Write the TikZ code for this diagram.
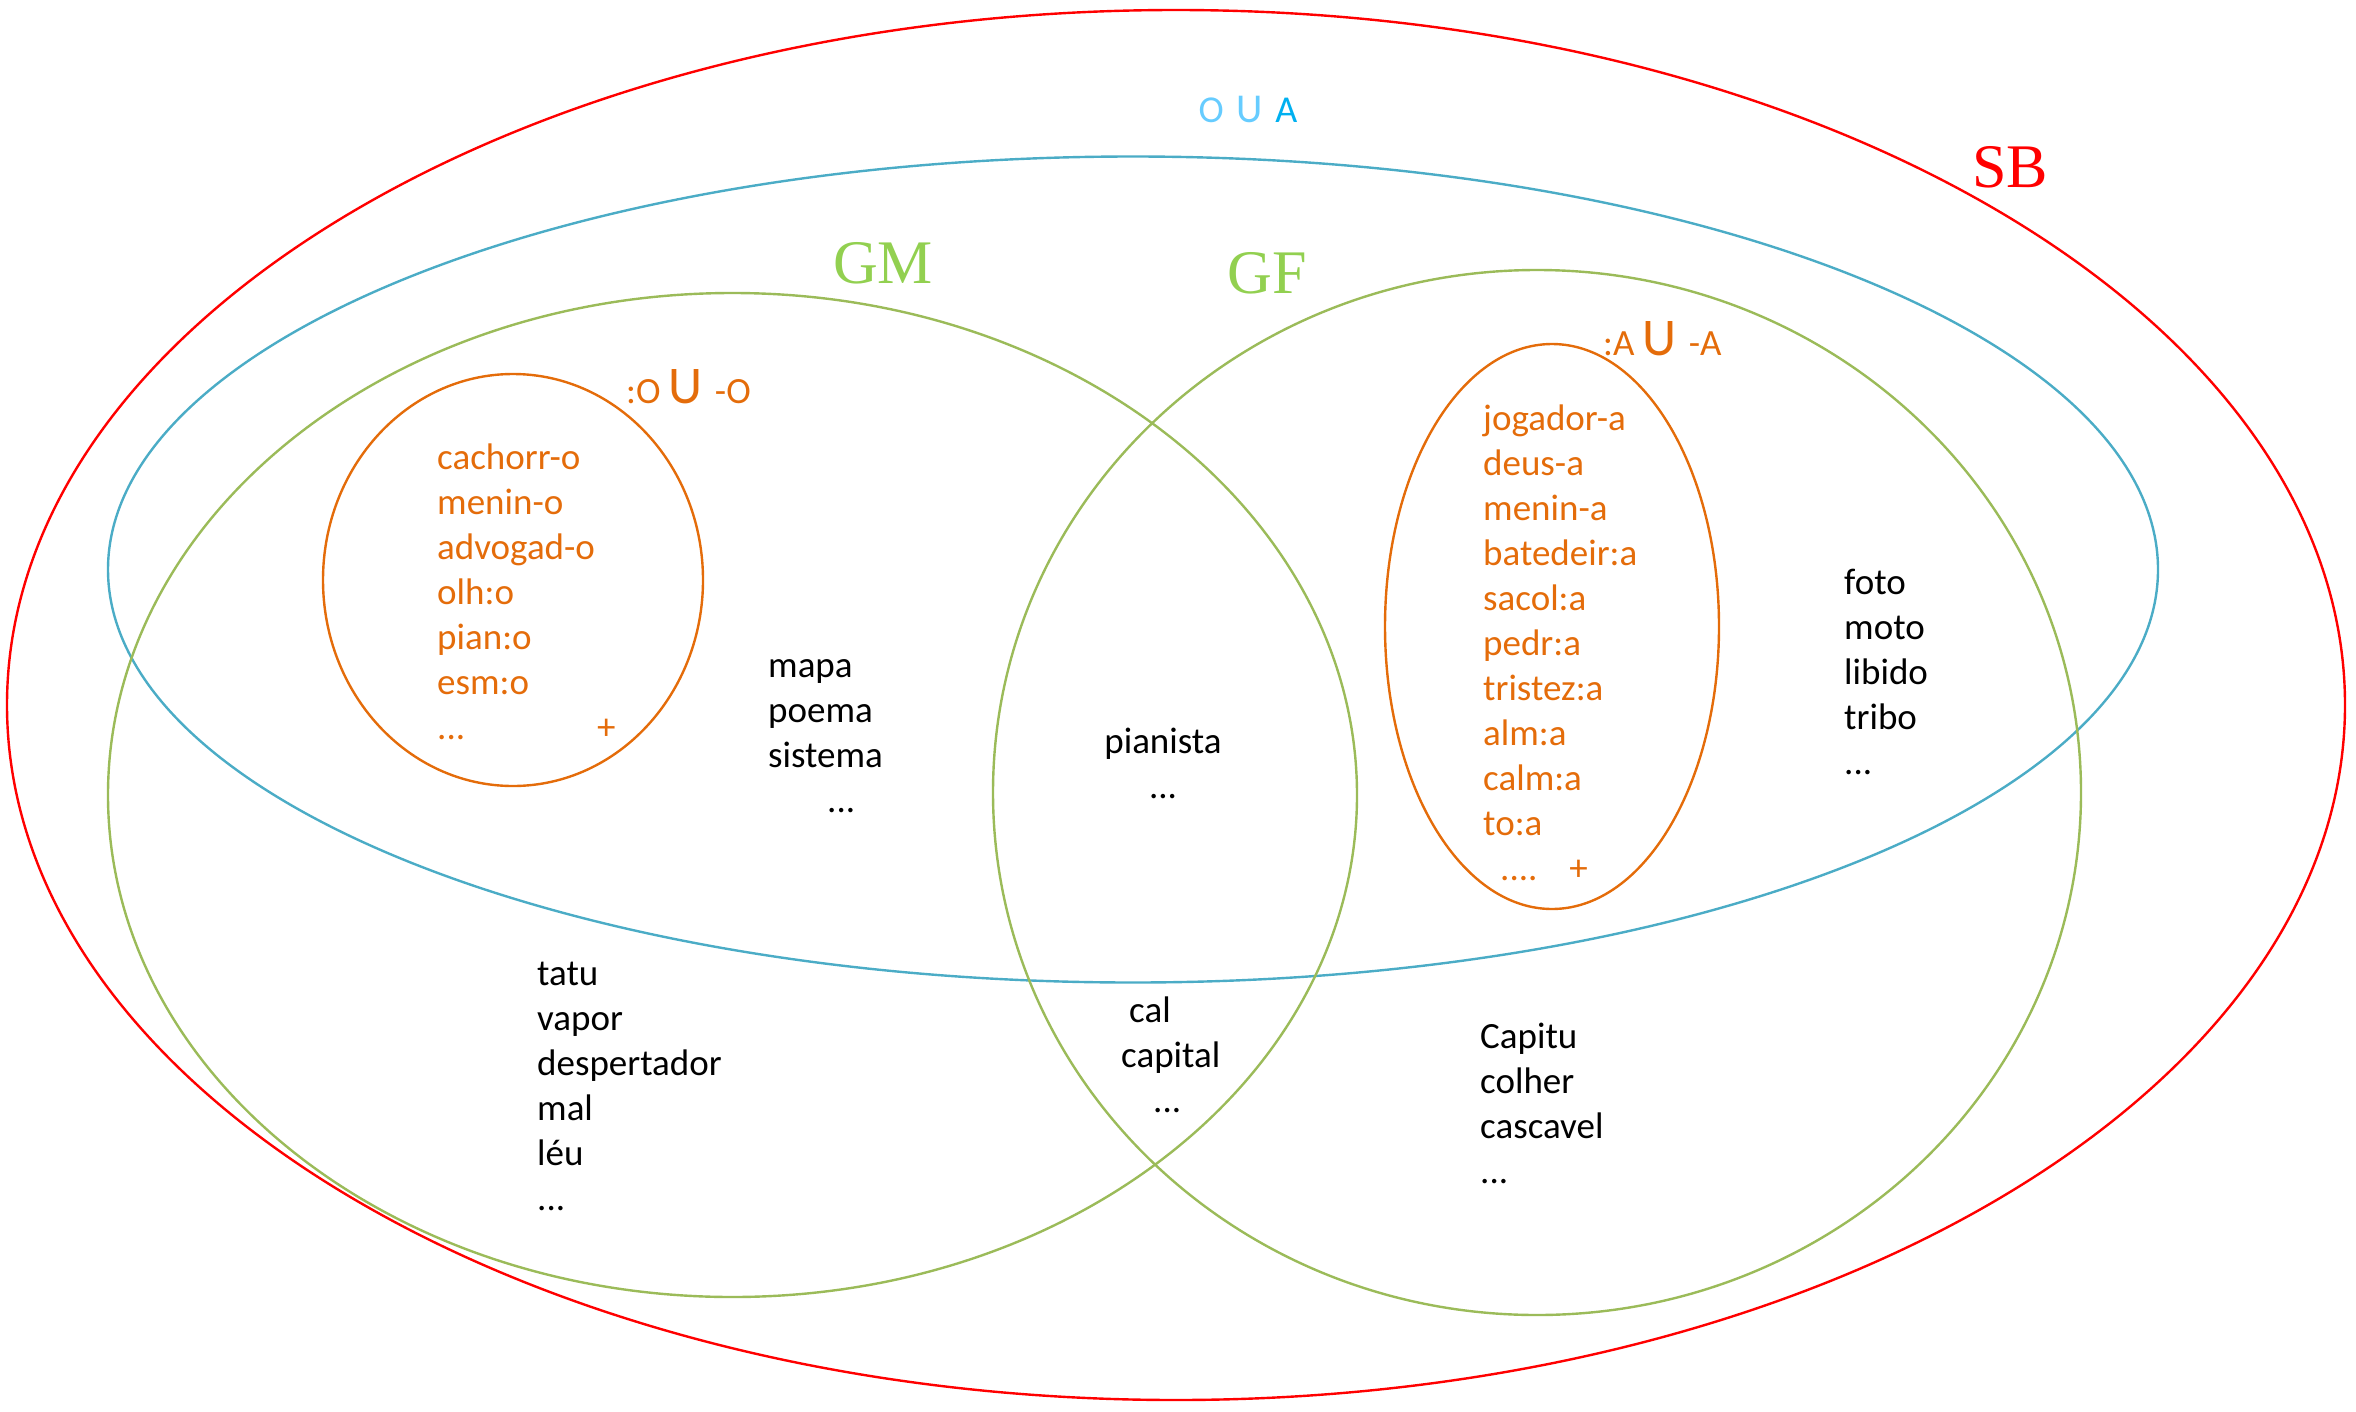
\documentclass[tikz,border=0pt]{standalone}
\usepackage{fontspec}
\setmainfont{Carlito}
\newfontfamily\serifB{Liberation Serif}
\definecolor{sbred}{HTML}{FF0000}
\definecolor{oablue}{HTML}{4BACC6}
\definecolor{gline}{HTML}{9BBB59}
\definecolor{gtext}{HTML}{92D050}
\definecolor{orng}{HTML}{E46C0A}
\definecolor{lblue}{HTML}{66CCFF}
\definecolor{cyanA}{HTML}{00B0F0}
\tikzset{
  set/.style={line width=2.4pt},
  wlist/.style={font=\fontsize{37}{45}\selectfont, align=left, inner sep=0pt, anchor=west},
  clist/.style={font=\fontsize{37}{45}\selectfont, align=center, inner sep=0pt},
  biglab/.style={font=\serifB\fontsize{62}{70}\selectfont, inner sep=0pt},
}
\begin{document}
\begin{tikzpicture}[x=1pt,y=-1pt]
\useasboundingbox (0,0) rectangle (2356,1411);
% sets
\draw[set, sbred] (1176,705) ellipse [x radius=1169, y radius=695];
\draw[set, oablue] (1133,569.5) ellipse [x radius=1025, y radius=413];
\draw[set, gline] (732.5,795) ellipse [x radius=624.5, y radius=502];
\draw[set, gline] (1537,792.5) ellipse [x radius=544, y radius=522.5];
\draw[set, orng] (513,580) ellipse [x radius=190, y radius=206];
\draw[set, orng] (1552,626.5) ellipse [x radius=167, y radius=282.5];
% labels
\node[biglab, text=sbred] (sb) at (2010,167) {SB};
\node[biglab, text=gtext] (gm) at (883,263) {GM};
\node[biglab, text=gtext] (gf) at (1267,273) {GF};
\node[inner sep=0pt, anchor=base, font=\fontsize{38}{40}\selectfont] (oua) at (1248,122)
  {\textcolor{lblue}{O\,\,{\fontsize{41}{44}\selectfont U}}\,\,\textcolor{cyanA}{A}};
\node[inner sep=0pt, anchor=base west, text=orng] (mo) at (626,403)
  {\fontsize{37}{40}\selectfont :O \fontsize{53}{56}\selectfont U \fontsize{37}{40}\selectfont -O};
\node[inner sep=0pt, anchor=base west, text=orng] (fa) at (1603,355)
  {\fontsize{37}{40}\selectfont :A \fontsize{53}{56}\selectfont U \fontsize{37}{40}\selectfont -A};
% word lists
\node[wlist, text=orng] (masc) at (437,592)
  {cachorr-o\\menin-o\\advogad-o\\olh:o\\pian:o\\esm:o\\...\hspace{132pt}+};
\node[wlist, text=orng] (fem) at (1483,643)
  {jogador-a\\deus-a\\menin-a\\batedeir:a\\sacol:a\\pedr:a\\tristez:a\\alm:a\\calm:a\\to:a\\\hspace{17pt}....\hspace{32pt}+};
\node[wlist] (mapa) at (768,736) {mapa\\poema\\sistema\\\hspace{59pt}...};
\node[clist] (pian) at (1163,763) {pianista\\...};
\node[wlist] (foto) at (1844,672) {foto\\moto\\libido\\tribo\\...};
\node[wlist] (tatu) at (537,1086) {tatu\\vapor\\despertador\\mal\\léu\\...};
\node[wlist] (cal) at (1121,1055) {\hspace{8pt}cal\\capital\\\hspace{32pt}...};
\node[wlist] (capitu) at (1480,1103) {Capitu\\colher\\cascavel\\...};
\end{tikzpicture}
\end{document}
